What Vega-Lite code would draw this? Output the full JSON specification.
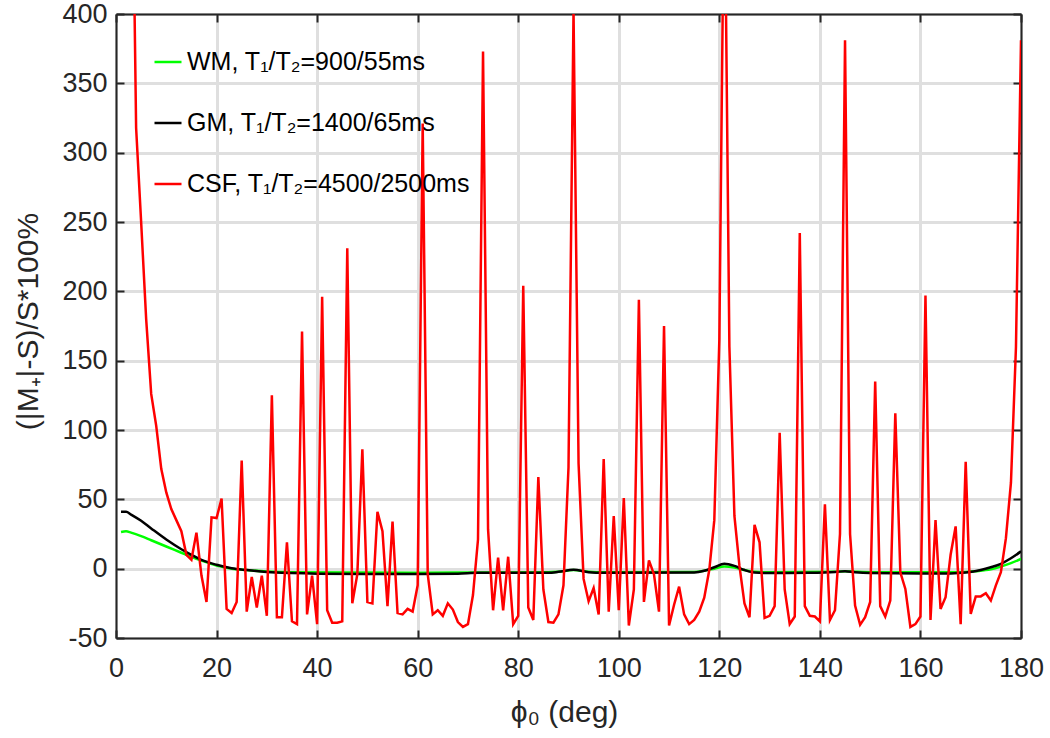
{
  "$schema": "https://vega.github.io/schema/vega-lite/v6.json",
  "width": 905,
  "height": 624,
  "autosize": {"type": "none"},
  "padding": {"left": 116, "top": 14, "right": 29, "bottom": 100},
  "background": "white",
  "config": {
    "font": "Liberation Sans",
    "view": {"stroke": null},
    "axis": {
      "labelFontSize": 27,
      "labelColor": "#262626",
      "ticks": true,
      "tickColor": "#262626",
      "tickOpacity": 1,
      "tickSize": -8,
      "tickWidth": 2,
      "domainColor": "#262626",
      "domainWidth": 2,
      "gridColor": "#dfdfdf",
      "gridWidth": 3,
      "gridOpacity": 1,
      "titleFontSize": 30,
      "titleFontWeight": "normal",
      "titleColor": "#262626",
      "labelFlush": false,
      "zindex": 1
    }
  },
  "datasets": {
    "wm": [
      {"phi":1,"v":26.5,"s":"WM"},{"phi":2,"v":27,"s":"WM"},{"phi":3,"v":26,"s":"WM"},{"phi":5,"v":23.5,"s":"WM"},{"phi":7,"v":20.5,"s":"WM"},{"phi":10,"v":16,"s":"WM"},{"phi":13,"v":11.5,"s":"WM"},{"phi":15,"v":8.5,"s":"WM"},{"phi":17,"v":5.8,"s":"WM"},{"phi":20,"v":2.3,"s":"WM"},{"phi":23,"v":0,"s":"WM"},{"phi":26,"v":-1,"s":"WM"},{"phi":30,"v":-2,"s":"WM"},{"phi":35,"v":-2.5,"s":"WM"},{"phi":50,"v":-2.8,"s":"WM"},{"phi":60,"v":-2.9,"s":"WM"},{"phi":70,"v":-2.8,"s":"WM"},{"phi":86,"v":-2.6,"s":"WM"},{"phi":88,"v":-2.2,"s":"WM"},{"phi":91,"v":-1,"s":"WM"},{"phi":94,"v":-2.2,"s":"WM"},{"phi":97,"v":-2.6,"s":"WM"},{"phi":115,"v":-2.4,"s":"WM"},{"phi":117,"v":-1.5,"s":"WM"},{"phi":119,"v":0,"s":"WM"},{"phi":121,"v":1.5,"s":"WM"},{"phi":123,"v":0.8,"s":"WM"},{"phi":125,"v":-1,"s":"WM"},{"phi":127,"v":-2.3,"s":"WM"},{"phi":130,"v":-2.6,"s":"WM"},{"phi":143,"v":-2.2,"s":"WM"},{"phi":145,"v":-1.9,"s":"WM"},{"phi":147,"v":-2.2,"s":"WM"},{"phi":150,"v":-2.5,"s":"WM"},{"phi":168,"v":-2.5,"s":"WM"},{"phi":171,"v":-1.8,"s":"WM"},{"phi":174,"v":-0.5,"s":"WM"},{"phi":176,"v":1.5,"s":"WM"},{"phi":178,"v":4,"s":"WM"},{"phi":180,"v":7,"s":"WM"}
    ],
    "gm": [
      {"phi":1,"v":41,"s":"GM"},{"phi":2,"v":41,"s":"GM"},{"phi":3,"v":39,"s":"GM"},{"phi":5,"v":34.5,"s":"GM"},{"phi":7,"v":29,"s":"GM"},{"phi":10,"v":21,"s":"GM"},{"phi":13,"v":14,"s":"GM"},{"phi":15,"v":10,"s":"GM"},{"phi":17,"v":6.3,"s":"GM"},{"phi":20,"v":2.8,"s":"GM"},{"phi":23,"v":0.3,"s":"GM"},{"phi":26,"v":-1,"s":"GM"},{"phi":30,"v":-2.4,"s":"GM"},{"phi":35,"v":-3.2,"s":"GM"},{"phi":40,"v":-3.6,"s":"GM"},{"phi":50,"v":-3.8,"s":"GM"},{"phi":60,"v":-3.8,"s":"GM"},{"phi":68,"v":-3.6,"s":"GM"},{"phi":72,"v":-3,"s":"GM"},{"phi":86,"v":-3,"s":"GM"},{"phi":88,"v":-2.3,"s":"GM"},{"phi":91,"v":-0.8,"s":"GM"},{"phi":94,"v":-2.5,"s":"GM"},{"phi":97,"v":-3,"s":"GM"},{"phi":115,"v":-2.7,"s":"GM"},{"phi":117,"v":-1.5,"s":"GM"},{"phi":119,"v":1,"s":"GM"},{"phi":121,"v":3.5,"s":"GM"},{"phi":123,"v":2,"s":"GM"},{"phi":125,"v":-1,"s":"GM"},{"phi":127,"v":-2.8,"s":"GM"},{"phi":130,"v":-3.2,"s":"GM"},{"phi":138,"v":-3,"s":"GM"},{"phi":143,"v":-2.4,"s":"GM"},{"phi":145,"v":-1.8,"s":"GM"},{"phi":147,"v":-2.6,"s":"GM"},{"phi":150,"v":-3.2,"s":"GM"},{"phi":160,"v":-3.5,"s":"GM"},{"phi":166,"v":-3.4,"s":"GM"},{"phi":169,"v":-2.8,"s":"GM"},{"phi":172,"v":-1,"s":"GM"},{"phi":174,"v":1,"s":"GM"},{"phi":176,"v":3.5,"s":"GM"},{"phi":178,"v":7.5,"s":"GM"},{"phi":180,"v":12.5,"s":"GM"}
    ],
    "csf": [
      {"phi":1,"v":1500,"s":"CSF"},{"phi":2,"v":900,"s":"CSF"},{"phi":3,"v":590,"s":"CSF"},{"phi":4,"v":318,"s":"CSF"},{"phi":5,"v":250,"s":"CSF"},{"phi":6,"v":180,"s":"CSF"},{"phi":7,"v":126,"s":"CSF"},{"phi":8,"v":103,"s":"CSF"},{"phi":9,"v":72,"s":"CSF"},{"phi":10,"v":55,"s":"CSF"},
      {"phi":11,"v":43,"s":"CSF"},{"phi":12,"v":35,"s":"CSF"},{"phi":13,"v":27,"s":"CSF"},{"phi":14,"v":10,"s":"CSF"},{"phi":15,"v":6.5,"s":"CSF"},{"phi":16,"v":26,"s":"CSF"},{"phi":17,"v":-5,"s":"CSF"},{"phi":18,"v":-24,"s":"CSF"},{"phi":19,"v":37,"s":"CSF"},{"phi":20,"v":36.5,"s":"CSF"},
      {"phi":21,"v":50.5,"s":"CSF"},{"phi":22,"v":-29,"s":"CSF"},{"phi":23,"v":-32,"s":"CSF"},{"phi":24,"v":-24,"s":"CSF"},{"phi":25,"v":78,"s":"CSF"},{"phi":26,"v":-31,"s":"CSF"},{"phi":27,"v":-6,"s":"CSF"},{"phi":28,"v":-28,"s":"CSF"},{"phi":29,"v":-5,"s":"CSF"},{"phi":30,"v":-34,"s":"CSF"},
      {"phi":31,"v":125,"s":"CSF"},{"phi":32,"v":-35,"s":"CSF"},{"phi":33,"v":-35,"s":"CSF"},{"phi":34,"v":19,"s":"CSF"},{"phi":35,"v":-38,"s":"CSF"},{"phi":36,"v":-40,"s":"CSF"},{"phi":37,"v":171,"s":"CSF"},{"phi":38,"v":-33,"s":"CSF"},{"phi":39,"v":-5,"s":"CSF"},{"phi":40,"v":-40,"s":"CSF"},
      {"phi":41,"v":196,"s":"CSF"},{"phi":42,"v":-30,"s":"CSF"},{"phi":43,"v":-39,"s":"CSF"},{"phi":44,"v":-39,"s":"CSF"},{"phi":45,"v":-38,"s":"CSF"},{"phi":46,"v":231,"s":"CSF"},{"phi":47,"v":-25,"s":"CSF"},{"phi":48,"v":-4,"s":"CSF"},{"phi":49,"v":86,"s":"CSF"},{"phi":50,"v":-24,"s":"CSF"},
      {"phi":51,"v":-25,"s":"CSF"},{"phi":52,"v":41,"s":"CSF"},{"phi":53,"v":27,"s":"CSF"},{"phi":54,"v":-27,"s":"CSF"},{"phi":55,"v":34,"s":"CSF"},{"phi":56,"v":-32,"s":"CSF"},{"phi":57,"v":-33,"s":"CSF"},{"phi":58,"v":-29,"s":"CSF"},{"phi":59,"v":-31,"s":"CSF"},{"phi":60,"v":-12,"s":"CSF"},
      {"phi":61,"v":321,"s":"CSF"},{"phi":62,"v":-4,"s":"CSF"},{"phi":63,"v":-33,"s":"CSF"},{"phi":64,"v":-30,"s":"CSF"},{"phi":65,"v":-34,"s":"CSF"},{"phi":66,"v":-25,"s":"CSF"},{"phi":67,"v":-29.5,"s":"CSF"},{"phi":68,"v":-38.5,"s":"CSF"},{"phi":69,"v":-42,"s":"CSF"},{"phi":70,"v":-40,"s":"CSF"},
      {"phi":71,"v":-19,"s":"CSF"},{"phi":72,"v":21,"s":"CSF"},{"phi":73,"v":373,"s":"CSF"},{"phi":74,"v":28.5,"s":"CSF"},{"phi":75,"v":-30,"s":"CSF"},{"phi":76,"v":8,"s":"CSF"},{"phi":77,"v":-30,"s":"CSF"},{"phi":78,"v":8.6,"s":"CSF"},{"phi":79,"v":-40,"s":"CSF"},{"phi":80,"v":-34,"s":"CSF"},
      {"phi":81,"v":204,"s":"CSF"},{"phi":82,"v":-28,"s":"CSF"},{"phi":83,"v":-37,"s":"CSF"},{"phi":84,"v":66,"s":"CSF"},{"phi":85,"v":-15,"s":"CSF"},{"phi":86,"v":-38.5,"s":"CSF"},{"phi":87,"v":-39,"s":"CSF"},{"phi":88,"v":-33,"s":"CSF"},{"phi":89,"v":-12,"s":"CSF"},{"phi":90,"v":73,"s":"CSF"},
      {"phi":91,"v":402,"s":"CSF"},{"phi":92,"v":76,"s":"CSF"},{"phi":93,"v":-7.4,"s":"CSF"},{"phi":94,"v":-23.5,"s":"CSF"},{"phi":95,"v":-14,"s":"CSF"},{"phi":96,"v":-33,"s":"CSF"},{"phi":97,"v":79,"s":"CSF"},{"phi":98,"v":-31,"s":"CSF"},{"phi":99,"v":38,"s":"CSF"},{"phi":100,"v":-30,"s":"CSF"},
      {"phi":101,"v":51,"s":"CSF"},{"phi":102,"v":-41,"s":"CSF"},{"phi":103,"v":-15,"s":"CSF"},{"phi":104,"v":194,"s":"CSF"},{"phi":105,"v":-24,"s":"CSF"},{"phi":106,"v":6,"s":"CSF"},{"phi":107,"v":-4,"s":"CSF"},{"phi":108,"v":-31,"s":"CSF"},{"phi":109,"v":175,"s":"CSF"},{"phi":110,"v":-41,"s":"CSF"},
      {"phi":111,"v":-26,"s":"CSF"},{"phi":112,"v":-13,"s":"CSF"},{"phi":113,"v":-33,"s":"CSF"},{"phi":114,"v":-40,"s":"CSF"},{"phi":115,"v":-37,"s":"CSF"},{"phi":116,"v":-31,"s":"CSF"},{"phi":117,"v":-21,"s":"CSF"},{"phi":118,"v":-1,"s":"CSF"},{"phi":119,"v":35,"s":"CSF"},{"phi":120,"v":165,"s":"CSF"},
      {"phi":121,"v":520,"s":"CSF"},{"phi":122,"v":160,"s":"CSF"},{"phi":123,"v":38,"s":"CSF"},{"phi":124,"v":2,"s":"CSF"},{"phi":125,"v":-25,"s":"CSF"},{"phi":126,"v":-35,"s":"CSF"},{"phi":127,"v":31.6,"s":"CSF"},{"phi":128,"v":19,"s":"CSF"},{"phi":129,"v":-35.5,"s":"CSF"},{"phi":130,"v":-34,"s":"CSF"},
      {"phi":131,"v":-27,"s":"CSF"},{"phi":132,"v":98,"s":"CSF"},{"phi":133,"v":-15,"s":"CSF"},{"phi":134,"v":-40,"s":"CSF"},{"phi":135,"v":-34.5,"s":"CSF"},{"phi":136,"v":242,"s":"CSF"},{"phi":137,"v":-27,"s":"CSF"},{"phi":138,"v":-34,"s":"CSF"},{"phi":139,"v":-34.5,"s":"CSF"},{"phi":140,"v":-38,"s":"CSF"},
      {"phi":141,"v":46.5,"s":"CSF"},{"phi":142,"v":-37,"s":"CSF"},{"phi":143,"v":-30,"s":"CSF"},{"phi":144,"v":25,"s":"CSF"},{"phi":145,"v":381,"s":"CSF"},{"phi":146,"v":25,"s":"CSF"},{"phi":147,"v":-26.6,"s":"CSF"},{"phi":148,"v":-40.5,"s":"CSF"},{"phi":149,"v":-35,"s":"CSF"},{"phi":150,"v":-24,"s":"CSF"},
      {"phi":151,"v":135,"s":"CSF"},{"phi":152,"v":-27,"s":"CSF"},{"phi":153,"v":-34.5,"s":"CSF"},{"phi":154,"v":-23,"s":"CSF"},{"phi":155,"v":112,"s":"CSF"},{"phi":156,"v":-2.6,"s":"CSF"},{"phi":157,"v":-14.6,"s":"CSF"},{"phi":158,"v":-42,"s":"CSF"},{"phi":159,"v":-40,"s":"CSF"},{"phi":160,"v":-34.5,"s":"CSF"},
      {"phi":161,"v":197,"s":"CSF"},{"phi":162,"v":-37,"s":"CSF"},{"phi":163,"v":35,"s":"CSF"},{"phi":164,"v":-29,"s":"CSF"},{"phi":165,"v":-20.6,"s":"CSF"},{"phi":166,"v":10,"s":"CSF"},{"phi":167,"v":30.5,"s":"CSF"},{"phi":168,"v":-40,"s":"CSF"},{"phi":169,"v":77,"s":"CSF"},{"phi":170,"v":-32.6,"s":"CSF"},
      {"phi":171,"v":-20,"s":"CSF"},{"phi":172,"v":-20,"s":"CSF"},{"phi":173,"v":-17.7,"s":"CSF"},{"phi":174,"v":-23,"s":"CSF"},{"phi":175,"v":-12,"s":"CSF"},{"phi":176,"v":-2.6,"s":"CSF"},{"phi":177,"v":22,"s":"CSF"},{"phi":178,"v":62,"s":"CSF"},{"phi":179,"v":160,"s":"CSF"},{"phi":180,"v":381,"s":"CSF"}
    ]
  },
  "layer": [
    {
      "data": {"name": "wm"},
      "mark": {"type": "line", "strokeWidth": 2.5, "interpolate": "monotone", "clip": true},
      "encoding": {
        "x": {"field": "phi", "type": "quantitative", "scale": {"domain": [0, 180], "nice": false, "zero": false},
          "axis": {"orient": "bottom", "values": [0,20,40,60,80,100,120,140,160,180], "labelPadding": 25, "title": "ϕ₀ (deg)", "titleX": 448, "titleY": 74, "titleBaseline": "middle", "titleAnchor": null}},
        "y": {"field": "v", "type": "quantitative", "scale": {"domain": [-50, 400], "nice": false, "zero": false},
          "axis": {"orient": "left", "values": [-50,0,50,100,150,200,250,300,350,400], "labelPadding": 17, "labelExpr": "'' + datum.value", "title": "(|M₊|-S)/S*100%", "titleX": -73, "titleY": 307}},
        "color": {"field": "s", "type": "nominal",
          "scale": {"domain": ["WM", "GM", "CSF"], "range": ["#00ff00", "#000000", "#ff0000"]},
          "legend": {"orient": "none", "legendX": 37, "legendY": 33, "title": null, "symbolType": "stroke", "symbolSize": 729, "symbolStrokeWidth": 2.5, "labelFontSize": 25, "labelColor": "#000000", "rowPadding": 33, "labelOffset": 4, "labelLimit": 600,
            "labelExpr": "datum.label == 'WM' ? 'WM, T₁/T₂=900/55ms' : datum.label == 'GM' ? 'GM, T₁/T₂=1400/65ms' : 'CSF, T₁/T₂=4500/2500ms'"}}
      }
    },
    {
      "data": {"name": "gm"},
      "mark": {"type": "line", "strokeWidth": 2.5, "interpolate": "monotone", "clip": true},
      "encoding": {
        "x": {"field": "phi", "type": "quantitative", "axis": null},
        "y": {"field": "v", "type": "quantitative", "axis": null},
        "color": {"field": "s", "type": "nominal"}
      }
    },
    {
      "data": {"name": "csf"},
      "mark": {"type": "line", "strokeWidth": 2.5, "clip": true},
      "encoding": {
        "x": {"field": "phi", "type": "quantitative", "axis": null},
        "y": {"field": "v", "type": "quantitative", "axis": null},
        "color": {"field": "s", "type": "nominal"}
      }
    },
    {
      "data": {"name": "wm"},
      "mark": {"type": "point", "opacity": 0},
      "encoding": {
        "x": {"field": "phi", "type": "quantitative",
          "axis": {"orient": "top", "values": [0,20,40,60,80,100,120,140,160,180], "labels": false, "grid": false, "title": null}},
        "y": {"field": "v", "type": "quantitative",
          "axis": {"orient": "right", "values": [-50,0,50,100,150,200,250,300,350,400], "labels": false, "grid": false, "title": null}}
      }
    }
  ],
  "resolve": {"axis": {"x": "independent", "y": "independent"}}
}
